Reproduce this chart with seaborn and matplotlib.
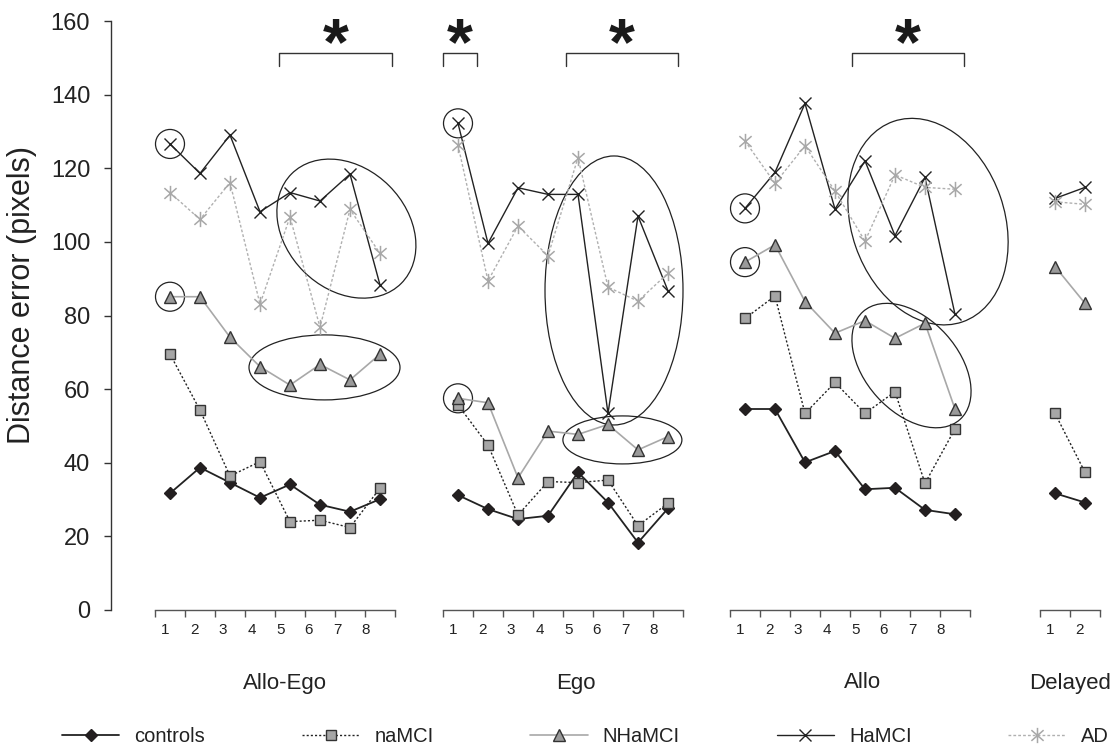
import numpy as np
import pandas as pd
import seaborn as sns
import matplotlib.pyplot as plt
import matplotlib.transforms as mtransforms
from matplotlib.lines import Line2D
from matplotlib.patches import Ellipse
from matplotlib.path import Path

# sessions and number of trials in each
sessions = ["Allo-Ego", "Ego", "Allo", "Delayed"]
n_trials = [8, 8, 8, 2]
groups = ["controls", "naMCI", "NHaMCI", "HaMCI", "AD"]

# distance error (pixels), trials of all sessions in a row
controls = [31.7, 38.7, 34.6, 30.5, 34.1, 28.6, 26.7, 30.1,
            31.2, 27.4, 24.7, 25.6, 37.4, 29.2, 18.3, 27.6,
            54.6, 54.6, 40.1, 43.2, 32.8, 33.2, 27.2, 26.0,
            31.7, 29.2]
naMCI = [69.5, 54.3, 36.4, 40.3, 24.0, 24.4, 22.4, 33.1,
         55.7, 44.8, 25.8, 34.9, 34.6, 35.3, 22.9, 29.0,
         79.2, 85.3, 53.4, 61.8, 53.4, 59.3, 34.4, 49.2,
         53.4, 37.4]
NHaMCI = [85.1, 85.1, 74.1, 66.1, 61.1, 66.7, 62.5, 69.5,
          57.5, 56.3, 35.9, 48.6, 47.7, 50.4, 43.5, 47.1,
          94.5, 99.2, 83.8, 75.2, 78.6, 73.8, 77.9, 54.6,
          93.3, 83.3]
HaMCI = [126.6, 118.6, 129.0, 108.2, 113.4, 111.1, 118.4, 88.3,
         132.2, 99.6, 114.7, 112.9, 112.9, 53.4, 107.0, 86.7,
         109.1, 118.9, 137.6, 108.9, 122.0, 101.7, 117.5, 80.3,
         111.8, 114.8]
AD = [113.4, 106.1, 116.1, 83.1, 106.8, 76.8, 108.8, 96.9,
      126.3, 89.4, 104.3, 96.2, 122.9, 87.7, 83.9, 91.5,
      127.4, 115.9, 126.1, 113.8, 100.2, 118.2, 114.8, 114.3,
      110.9, 110.2]

yticks = [0, 20, 40, 60, 80, 100, 120, 140, 160]

# long form table
rows = []
for g, vals in zip(groups, [controls, naMCI, NHaMCI, HaMCI, AD]):
    i = 0
    for s, n in zip(sessions, n_trials):
        for t in range(n):
            rows.append((g, s, t, vals[i]))
            i += 1
df = pd.DataFrame(rows, columns=["group", "session", "trial", "error"])

sns.set_style("white")
plt.rcParams["font.family"] = ["Liberation Sans", "DejaVu Sans"]

# asterisk marker for AD
star = Path([(0, -1), (0, 1), (-0.8, -0.7), (0.8, 0.7), (-0.8, 0.7), (0.8, -0.7)],
            [Path.MOVETO, Path.LINETO] * 3)

styles = {
    "controls": dict(color="#222222", lw=1.3, ls="-", marker="D", ms=6.5, mfc="#231f20", mec="#231f20", mew=1),
    "naMCI": dict(color="#222222", lw=1.0, ls=(0, (1.5, 1.5)), marker="s", ms=6.5, mfc="#a6a6a6", mec="#333333", mew=1),
    "NHaMCI": dict(color="#a8a8a8", lw=1.2, ls="-", marker="^", ms=8, mfc="#9a9a9a", mec="#333333", mew=1),
    "HaMCI": dict(color="#222222", lw=1.0, ls="-", marker="x", ms=8.5, mec="#222222", mew=1.0),
    "AD": dict(color="#b0b0b0", lw=1.0, ls=(0, (2, 1.5)), marker=star, ms=11, mec="#a8a8a8", mew=1.1),
}

W, H = 1117, 749
fig = plt.figure(figsize=(W / 100, H / 100), dpi=100)
lefts = [155, 443, 730, 1040]
label_dx = [10, 13, 13, 0]
axes = []
for k, (s, n) in enumerate(zip(sessions, n_trials)):
    ax = fig.add_axes([lefts[k] / W, (H - 610) / H, n * 30 / W, (610 - 21) / H])
    sub = df[df["session"] == s]
    for g in groups:
        d = sub[sub["group"] == g]
        sns.lineplot(data=d, x="trial", y="error", ax=ax, errorbar=None, **styles[g])
    ax.set_xlim(-0.5, n - 0.5)
    ax.set_ylim(0, 160)
    ax.set_xlabel("")
    ax.set_ylabel("")
    for sp in ["top", "right", "left"]:
        ax.spines[sp].set_visible(False)
    ax.spines["bottom"].set_color("#555555")
    ax.spines["bottom"].set_linewidth(1)
    ax.set_xticks(np.arange(n + 1) - 0.5, [""] * (n + 1))
    ax.tick_params(axis="x", which="major", bottom=True, direction="out", length=5, width=1,
                   color="#555555")
    ax.set_xticks(np.arange(n) * 0.955 - 0.15, [str(i + 1) for i in range(n)], minor=True)
    ax.tick_params(axis="x", which="minor", bottom=True, length=0, pad=9, labelsize=11,
                   labelcolor="#222222")
    ax.set_yticks([])
    ax.text(0.5 + label_dx[k] / (n * 30), -(683 - 610) / 589, s, transform=ax.transAxes,
            ha="center", va="center", fontsize=16, color="#222222")
    axes.append(ax)

ax0 = axes[0]
ax0.spines["left"].set_visible(True)
ax0.spines["left"].set_position(("outward", 44 * 0.72))
ax0.spines["left"].set_color("#333333")
ax0.spines["left"].set_linewidth(1)
ax0.set_yticks(yticks)
ax0.tick_params(axis="y", left=True, direction="out", length=5, width=1, color="#333333", pad=10,
                labelsize=17, labelcolor="#222222")
fig.text(22 / W, 1 - 295 / H, "Distance error (pixels)", rotation=90, ha="center", va="center",
         fontsize=22, color="#222222")


def ring(ax, x, y, w, h, angle=0):
    trans = fig.dpi_scale_trans + mtransforms.ScaledTranslation(x, y, ax.transData)
    ax.add_artist(Ellipse((0, 0), w / 100, h / 100, angle=angle, fill=False, ec="#222222",
                          lw=0.9, transform=trans, clip_on=False))


def bracket(ax, x0, x1):
    ax.plot([x0, x0, x1, x1], [147.8, 151.3, 151.3, 147.8], color="#333333", lw=1, clip_on=False)
    ax.text((x0 + x1) / 2, 148.2, "*", ha="center", va="baseline", fontsize=48, fontweight="bold",
            color="#1a1a1a")


# circles round the first trial
for k in range(3):
    i0 = sum(n_trials[:k])
    ring(axes[k], 0, HaMCI[i0], 29, 29)
    ring(axes[k], 0, NHaMCI[i0], 29, 29)

# ellipses
ring(axes[0], 5.88, 103.6, 155, 121, -45)
ring(axes[0], 5.15, 65.9, 151, 65, 0)
ring(axes[1], 5.2, 86.8, 138, 269, 0)
ring(axes[1], 5.48, 46.2, 119, 48, 0)
ring(axes[2], 6.1, 105.5, 153, 212, 19)
ring(axes[2], 5.55, 66.4, 145, 93, -48)

bracket(axes[0], 3.63, 7.4)
bracket(axes[1], -0.5, 0.63)
bracket(axes[1], 3.6, 7.33)
bracket(axes[2], 3.57, 7.3)

handles = [Line2D([], [], **styles[g]) for g in groups]
fig.legend(handles, groups, loc="center", bbox_to_anchor=(0.524, 1 - 737 / H), ncol=5,
           frameon=False, fontsize=14.5, handlelength=2.85, handletextpad=0.75,
           columnspacing=4.8, labelcolor="#222222")

fig.savefig("out.png", dpi=100)
